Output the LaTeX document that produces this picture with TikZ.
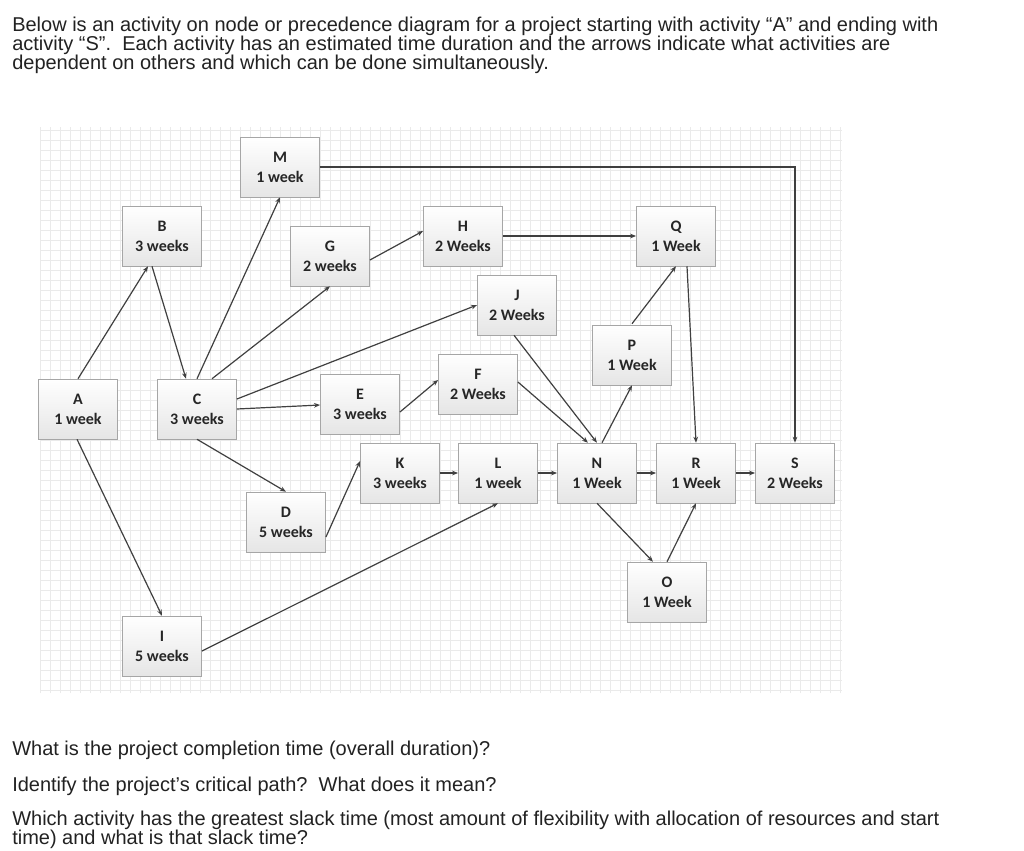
\documentclass[tikz,border=0pt]{standalone}
\usepackage{fontspec}
\setmainfont{Liberation Sans}
\newfontfamily\boxfont{Carlito}
\usetikzlibrary{arrows.meta,calc}
\definecolor{txt}{RGB}{34,34,34}
\definecolor{gridc}{RGB}{234,234,234}
\begin{document}
\begin{tikzpicture}[x=0.75pt,y=-0.75pt,
  act/.style={draw=black!35,top color=white,bottom color=black!10,minimum width=59.5pt,minimum height=45pt,inner sep=1pt,align=center,font=\boxfont\bfseries\fontsize{12}{15}\selectfont,text=black!85},
  con/.style={draw=black!75,line width=0.9pt,-{Stealth[length=4.5pt,width=3.5pt]}},
  qtext/.style={anchor=north west,inner sep=0pt,font=\fontsize{15}{15}\selectfont,text=txt,align=left}]
\useasboundingbox (0,0) rectangle (1024,850);
\fill[white] (0,0) rectangle (1024,850);
\draw[gridc,line width=0.3pt,step=10*0.75pt] (40,127) grid (842,693);
\node[qtext] (t1) at (12,17) {Below is an activity on node or precedence diagram for a project starting with activity “A” and ending with\\[-1pt]activity “S”.\ \ Each activity has an estimated time duration and the arrows indicate what activities are\\[-1pt]dependent on others and which can be done simultaneously.};
\node[qtext] (q1) at (12,741) {What is the project completion time (overall duration)?};
\node[qtext] (q2) at (12,777) {Identify the project’s critical path?\ \ What does it mean?};
\node[qtext] (q3) at (12,811) {Which activity has the greatest slack time (most amount of flexibility with allocation of resources and start\\[-1pt]time) and what is that slack time?};
\node[act] (A) at (78,409) {A\\1 week};
\node[act] (B) at (162,236) {B\\3 weeks};
\node[act] (C) at (197,409) {C\\3 weeks};
\node[act] (M) at (280,167) {M\\1 week};
\node[act] (G) at (330,256) {G\\2 weeks};
\node[act] (E) at (360,404) {E\\3 weeks};
\node[act] (H) at (463,236) {H\\2 Weeks};
\node[act] (Q) at (676,236) {Q\\1 Week};
\node[act] (J) at (517,305) {J\\2 Weeks};
\node[act] (P) at (632,355) {P\\1 Week};
\node[act] (F) at (478,384) {F\\2 Weeks};
\node[act] (K) at (400,473) {K\\3 weeks};
\node[act] (L) at (498,473) {L\\1 week};
\node[act] (N) at (597,473) {N\\1 Week};
\node[act] (R) at (696,473) {R\\1 Week};
\node[act] (S) at (795,473) {S\\2 Weeks};
\node[act] (O) at (667,592) {O\\1 Week};
\node[act] (D) at (286,522) {D\\5 weeks};
\node[act] (I) at (162,646) {I\\5 weeks};
\draw[con] (A.north) -- ($(B.south)+(-14,0)$);
\draw[con] ($(B.south)+(-10,0)$) -- ($(C.north)+(-11,0)$);
\draw[con] ($(A.south)+(-1,0)$) -- (I.north);
\draw[con] (C.north) -- (M.south);
\draw[con] ($(C.north)+(15,0)$) -- (G.south);
\draw[con] ($(C.east)+(0,-10)$) -- (J.west);
\draw[con] ($(C.east)+(0,0)$) -- ($(E.west)+(0,1)$);
\draw[con] ($(C.south)+(0,0)$) -- (D.north);
\draw[con] ($(G.east)+(0,4)$) -- ($(H.west)+(0,-5)$);
\draw[con] ($(E.east)+(0,8)$) -- ($(F.west)+(0,-4)$);
\draw[con] ($(D.east)+(0,15)$) -- ($(K.west)+(0,-12)$);
\draw[con] (K.east) -- (L.west);
\draw[con] ($(I.east)+(0,5)$) -- (L.south);
\draw[con] (L.east) -- (N.west);
\draw[con] ($(F.east)+(0,-2)$) -- ($(N.north)+(-9,0)$);
\draw[con] ($(J.south)+(-3,0)$) -- ($(N.north)+(0,0)$);
\draw[con] ($(N.north)+(5,0)$) -- (P.south);
\draw[con] ($(P.north)+(0,-1)$) -- (Q.south);
\draw[con] (H.east) -- (Q.west);
\draw[con] ($(Q.south)+(11,0)$) -- (R.north);
\draw[con] (N.east) -- (R.west);
\draw[con] (N.south) -- ($(O.north)+(-14,0)$);
\draw[con] (O.north) -- (R.south);
\draw[con] (R.east) -- (S.west);
\draw[con] (M.east) -| (S.north);
\end{tikzpicture}
\end{document}
